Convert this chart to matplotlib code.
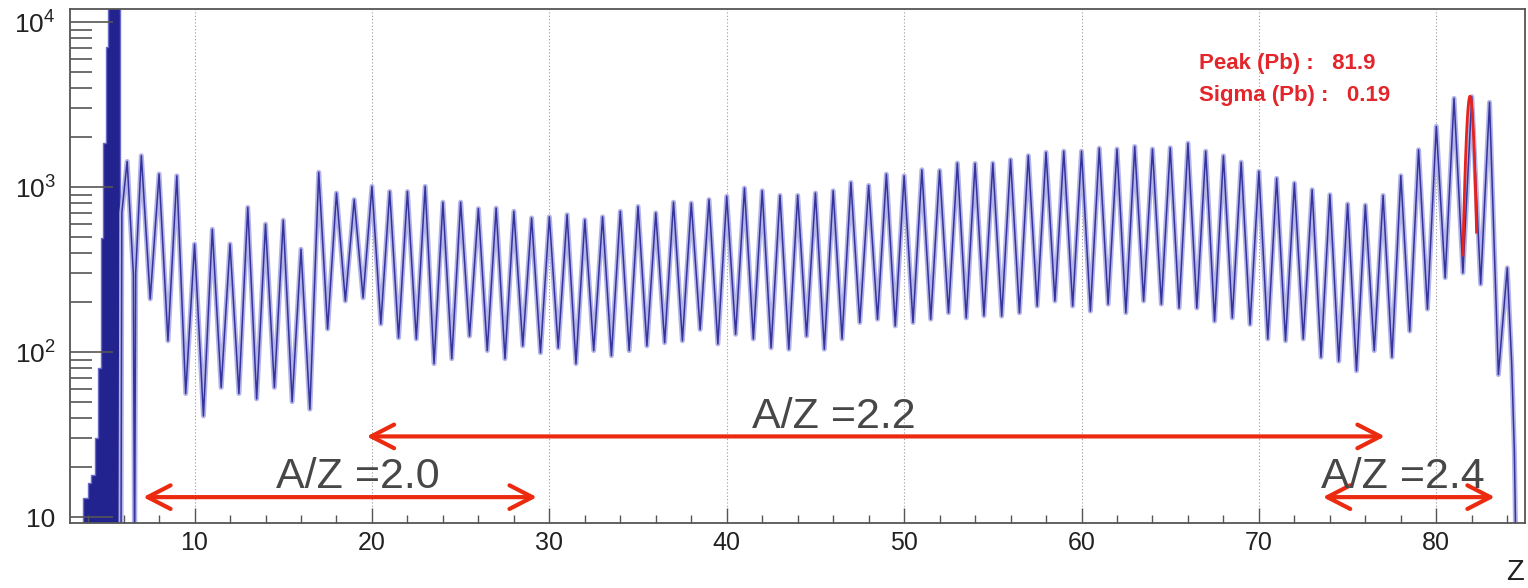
import numpy as np
import matplotlib
matplotlib.use("Agg")
import matplotlib.pyplot as plt
from matplotlib.ticker import FixedLocator, MultipleLocator, LogLocator, NullFormatter

plt.rcParams['font.family'] = ['Liberation Sans', 'DejaVu Sans']
plt.rcParams['mathtext.fontset'] = 'custom'
plt.rcParams['mathtext.rm'] = 'Liberation Sans'
plt.rcParams['mathtext.it'] = 'Liberation Sans:italic'
plt.rcParams['mathtext.bf'] = 'Liberation Sans:bold'

# --- data ---
# light ions, Z < 6 (filled bins, big peak goes off scale)
low_edges = [3.73, 3.98, 4.18, 4.37, 4.57, 4.71, 4.85, 4.99, 5.14, 5.31, 5.48, 5.64, 5.78]
low_counts = [13, 16, 18, 30, 80, 490, 1850, 7100, 30000, 30000, 30000, 30000]

# Z = 6 region with empty bins either side
head_z = [5.85, 5.9, 6.2, 6.55, 6.62, 6.68]
head_counts = [5, 700, 1430, 296, 5, 300]

# peak heights for Z = 7 .. 84
peak_z = list(range(7, 85))
peak_counts = [1550, 1200, 1170, 451, 555, 451, 753, 596, 630, 420,
               1230, 920, 840, 1010, 940, 940, 1010, 810, 810, 740,
               745, 713, 650, 660, 680, 634, 660, 713, 763, 697,
               810, 800, 840, 880, 986, 950, 890, 890, 920, 950,
               1067, 1023, 1197, 1170, 1273, 1260, 1397, 1390, 1397, 1466,
               1550, 1624, 1650, 1650, 1720, 1700, 1762, 1700, 1730, 1845,
               1650, 1545, 1416, 1245, 1130, 1057, 964, 899, 789, 777,
               890, 1172, 1683, 2330, 3450, 3530, 3265, 324]

# valley minima between neighbours, Z = 7.5 .. 83.5
valley_counts = [210, 117, 56, 41, 61, 56, 52, 61, 50, 45,
                 138, 204, 213, 148, 122, 120, 85, 91, 125, 102,
                 91, 109, 99, 106, 85, 102, 95, 102, 109, 114,
                 117, 137, 112, 128, 120, 106, 104, 125, 104, 120,
                 151, 158, 144, 151, 158, 173, 161, 166, 165, 173,
                 190, 204, 190, 177, 195, 173, 204, 195, 185, 185,
                 154, 161, 147, 120, 117, 120, 93, 88, 77, 102,
                 93, 134, 182, 282, 302, 258, 73]

# falling edge after Z = 84
tail_z = [84.25, 84.4, 84.5]
tail_counts = [85, 25, 5]

# Gaussian fit on Pb
pb_mean = 81.9
pb_sigma = 0.19
pb_amp = 3550
pb_range = (81.5, 82.27)

arrow_spans = [(7.1, 29.3, 13.2), (19.7, 77.1, 30.8), (73.6, 83.3, 13.2)]
arrow_texts = [("A/Z =2.0", 19.2, 17.6), ("A/Z =2.2", 46.06, 40.5), ("A/Z =2.4", 78.1, 17.6)]

# --- build the line ---
zz = list(head_z)
cc = list(head_counts)
for i, z in enumerate(peak_z):
    zz.append(z)
    cc.append(peak_counts[i])
    if i < len(valley_counts):
        zz.append(z + 0.5)
        cc.append(valley_counts[i])
zz += tail_z
cc += tail_counts

W, H = 1528, 588
fig = plt.figure(figsize=(W / 100, H / 100), dpi=100)
ax = fig.add_axes([69.5 / W, 1 - 523 / H, (1525 - 69.5) / W, (523 - 9) / H])

ax.stairs(low_counts, low_edges, fill=True, baseline=1, color='#23238f')
ax.stairs(low_counts, low_edges, baseline=1, color='#6a6ac8', lw=1.0)
ax.plot(zz, cc, color='#b4b4e8', lw=3.6)
ax.plot(zz, cc, color='#34349c', lw=1.1)

zf = np.linspace(pb_range[0], pb_range[1], 80)
ax.plot(zf, pb_amp * np.exp(-0.5 * ((zf - pb_mean) / pb_sigma) ** 2),
        color='#e8231c', lw=2.0)

red = '#ec2a10'
for x1, x2, y in arrow_spans:
    ax.annotate('', xy=(x1, y), xytext=(x2, y),
                arrowprops=dict(arrowstyle='<->,head_length=1.65,head_width=0.85',
                                color=red, lw=3.0, shrinkA=0, shrinkB=0,
                                mutation_scale=10))
for t, x, y in arrow_texts:
    ax.text(x, y, t, fontsize=31, color='#474747', ha='center', va='center')

ax.set_yscale('log')
ax.set_xlim(2.95, 85.0)
ax.set_ylim(9.2, 12000)

ax.xaxis.set_minor_locator(MultipleLocator(2))
ax.set_xticks([10, 20, 30, 40, 50, 60, 70, 80])
ax.set_xticklabels(['10', '20', '30', '40', '50', '60', '70', '80'])
ax.yaxis.set_major_locator(FixedLocator([10, 100, 1000, 10000]))
ax.set_yticklabels(['10', r'$10^{2}$', r'$10^{3}$', r'$10^{4}$'])
ax.yaxis.set_minor_locator(LogLocator(base=10, subs=np.arange(2, 10)))
ax.yaxis.set_minor_formatter(NullFormatter())

ax.tick_params(axis='x', which='major', direction='in', length=10.5, width=1.0,
               color='#555555', labelsize=18, pad=6, labelcolor='#222222')
ax.tick_params(axis='x', which='minor', direction='in', length=5.5, width=1.0, color='#555555')
ax.tick_params(axis='y', which='major', direction='in', length=31, width=1.2,
               color='#555555', labelsize=19, pad=10, labelcolor='#222222')
ax.tick_params(axis='y', which='minor', direction='in', length=15.5, width=1.2, color='#555555')

ax.grid(axis='x', which='major', color='#9a9a9a', lw=0.8, linestyle=(0, (1, 2)))
for s in ax.spines.values():
    s.set_color('#555555')
    s.set_linewidth(1.3)

fig.text(1199 / W, 1 - 64 / H, 'Peak (Pb) :   81.9', color='#e3262b',
         fontsize=16, fontweight='bold', va='center', ha='left')
fig.text(1199 / W, 1 - 96 / H, 'Sigma (Pb) :   0.19', color='#e3262b',
         fontsize=16, fontweight='bold', va='center', ha='left')
fig.text(1515 / W, 1 - 572 / H, 'Z', fontsize=21, color='#222222', ha='center', va='center')

fig.savefig('out.png', dpi=100)
